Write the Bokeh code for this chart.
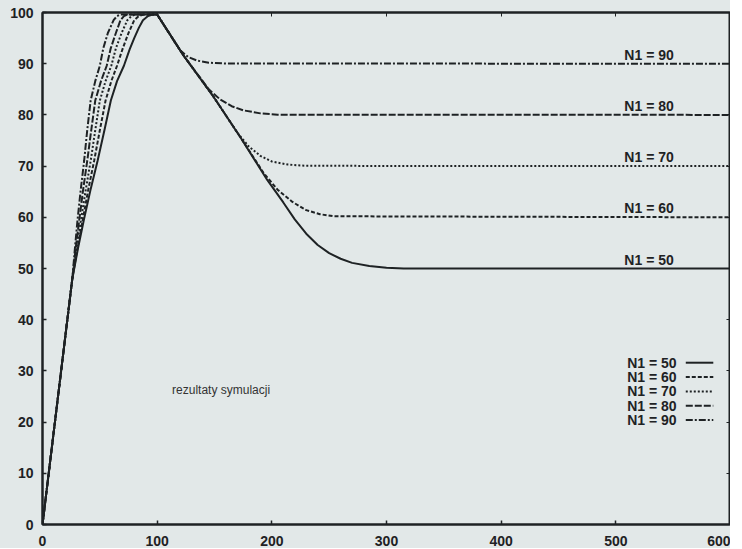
from bokeh.plotting import figure
from bokeh.models import Range1d, LinearAxis, FixedTicker, ColumnDataSource, Spacer
from bokeh.layouts import row
from bokeh.core.properties import value
from bokeh.embed import file_html
from bokeh.resources import INLINE

# ---- data ----
n1_levels = [50, 60, 70, 80, 90]
labels = ["N1 = 50", "N1 = 60", "N1 = 70", "N1 = 80", "N1 = 90"]

x_50 = [0, 26, 31, 36, 42, 48, 54, 59.6, 65, 71, 76, 80, 84, 87.6, 92, 96, 100,
        123, 149, 173, 196, 210, 220, 230, 240, 250, 260, 270, 285, 300, 315, 600]
y_50 = [0, 48, 54, 59.4, 65.5, 71, 77, 82.8, 86.6, 89.6, 92.8, 95, 97, 98.5, 99.3, 99.6, 99.6,
        91.6, 83.6, 75.5, 67.3, 62.9, 59.6, 56.8, 54.6, 53, 51.9, 51.1, 50.5, 50.15, 50, 50]

x_60 = [0, 26, 30.5, 35, 40, 45, 50, 55, 60, 65, 70, 75, 80, 84, 88, 100,
        123, 149, 173, 193, 205, 218, 230, 242, 254, 600]
y_60 = [0, 48, 54, 59.4, 65.5, 71, 77, 82.8, 86.6, 89.6, 93, 96, 98.5, 99.3, 99.6, 99.6,
        91.6, 83.6, 75.5, 68.6, 65.4, 63, 61.4, 60.6, 60.2, 60]

x_70 = [0, 26, 29.7, 33.5, 37.8, 42, 46, 50, 55, 60, 64, 69, 74, 77.5, 81, 100,
        123, 149, 170, 180, 190, 200, 214, 230, 600]
y_70 = [0, 48, 54, 59.4, 65.5, 71, 77, 82.8, 86.6, 89.6, 93, 96, 98.5, 99.3, 99.6, 99.6,
        91.6, 83.6, 76.5, 73.8, 72, 70.9, 70.3, 70.05, 70]

x_80 = [0, 26, 29, 32, 35.5, 39, 42.5, 46, 51, 56, 59.5, 64, 68, 71, 74, 100,
        123, 145, 155, 165, 175, 190, 205, 600]
y_80 = [0, 48, 54, 59.4, 65.5, 71, 77, 82.8, 86.6, 89.6, 93, 96, 98.5, 99.3, 99.6, 99.6,
        91.6, 85, 83, 81.7, 80.9, 80.3, 80.05, 80]

x_90 = [0, 26, 28.3, 30.5, 33.4, 36.3, 39, 42, 46, 50, 53, 57, 62, 65, 68, 100,
        120, 127, 135, 145, 160, 600]
y_90 = [0, 48, 54, 59.4, 65.5, 71, 77, 82.8, 86.6, 89.6, 93, 96, 98.5, 99.3, 99.6, 99.6,
        92.6, 91.3, 90.6, 90.2, 90.03, 90]

x_ticks = [0, 100, 200, 300, 400, 500, 600]
y_ticks = [0, 10, 20, 30, 40, 50, 60, 70, 80, 90, 100]

note_text = "rezultaty symulacji"

# ---- styling ----
BG = "#e2e8e8"
INK = "#1e2224"
FONT = "Liberation Sans"
dashes = ["solid", "4 2", "2 2", "7 2", "7 2 2 2"]
series = [(x_50, y_50), (x_60, y_60), (x_70, y_70), (x_80, y_80), (x_90, y_90)]

p = figure(frame_width=688, frame_height=512, output_backend="svg", toolbar_location=None,
           x_range=Range1d(0, 600), y_range=Range1d(0, 100),
           min_border_top=12, min_border_right=0, min_border_left=0, min_border_bottom=0)
p.background_fill_color = BG
p.border_fill_color = BG
p.outline_line_color = INK
p.outline_line_width = 2
p.xgrid.visible = False
p.ygrid.visible = False

for ax, ticks in ((p.xaxis[0], x_ticks), (p.yaxis[0], y_ticks)):
    ax.ticker = FixedTicker(ticks=ticks)
    ax.major_tick_in = 4
    ax.major_tick_out = 0
    ax.minor_tick_line_color = None
    ax.axis_line_color = INK
    ax.axis_line_width = 2
    ax.major_tick_line_color = INK
    ax.major_tick_line_width = 1.5
    ax.major_label_text_font = FONT
    ax.major_label_text_font_style = "bold"
    ax.major_label_text_font_size = "14px"
    ax.major_label_text_color = INK
p.xaxis.major_label_standoff = 11
p.yaxis.major_label_standoff = 9

# mirrored ticks on top and right
top = LinearAxis(ticker=FixedTicker(ticks=x_ticks), major_tick_in=4, major_tick_out=0,
                 minor_tick_line_color=None, major_label_text_font_size="0px",
                 major_label_standoff=0, axis_line_color=INK, axis_line_width=2,
                 major_tick_line_color=INK)
right = LinearAxis(ticker=FixedTicker(ticks=y_ticks), major_tick_in=4, major_tick_out=0,
                   minor_tick_line_color=None, major_label_text_font_size="0px",
                   major_label_standoff=0, axis_line_color=INK, axis_line_width=2,
                   major_tick_line_color=INK)
p.add_layout(top, "above")
p.add_layout(right, "right")

for (xs, ys), d in zip(series, dashes):
    p.line(xs, ys, line_color=INK, line_width=2, line_dash=d)

# labels above each plateau
src = ColumnDataSource(dict(x=[529] * 5, y=n1_levels, t=labels))
p.text(x="x", y="y", text="t", source=src, text_align="center", text_baseline="bottom",
       y_offset=-1, text_font=value(FONT), text_font_style="bold",
       text_font_size="14px", text_color=INK)

# manual legend (text left, sample right)
leg_y = [31.6, 28.8, 26.0, 23.2, 20.4]
p.text(x=[553] * 5, y=leg_y, text=labels, text_align="right", text_baseline="middle",
       text_font=value(FONT), text_font_style="bold", text_font_size="14px", text_color=INK)
for yy, d in zip(leg_y, dashes):
    p.line([561, 585], [yy, yy], line_color=INK, line_width=2, line_dash=d)

p.text(x=[113], y=[26.2], text=[note_text], text_align="left", text_baseline="middle",
       text_font=value(FONT), text_font_size="12px", text_color="#333333")

pad = {"background-color": BG}
layout = row(Spacer(width=7, height=10, styles=pad), p, styles=pad)

open("out.html", "w").write(file_html(layout, INLINE))
